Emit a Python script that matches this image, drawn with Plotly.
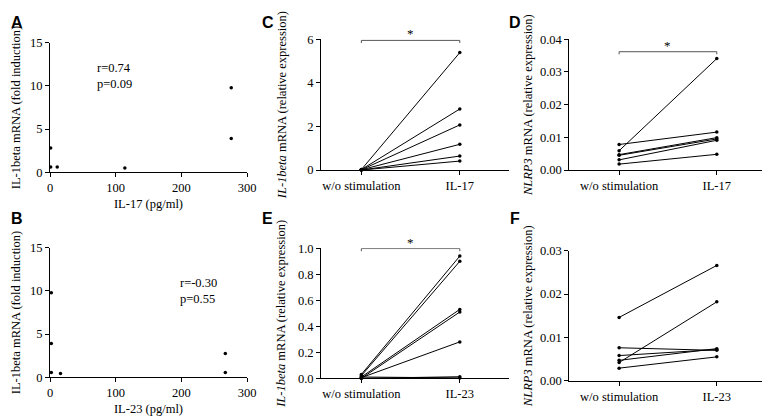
import plotly.graph_objects as go

# panel A / B: correlation scatter
il17_pg = [1, 1, 11, 114, 276, 276]
il1b_fold_a = [2.8, 0.6, 0.6, 0.5, 9.8, 3.9]
il23_pg = [2, 2, 2, 16, 267, 267]
il1b_fold_b = [9.8, 3.9, 0.55, 0.45, 2.75, 0.55]

# panels C-F: paired before/after values
cats_17 = ['w/o stimulation', 'IL-17']
cats_23 = ['w/o stimulation', 'IL-23']

c_wo = [0.02, 0.02, 0.01, 0.01, 0.0, 0.0]
c_il17 = [5.39, 2.80, 2.07, 1.18, 0.64, 0.41]

d_wo = [0.0059, 0.0078, 0.0047, 0.0045, 0.0031, 0.0018]
d_il17 = [0.0341, 0.0116, 0.0099, 0.0095, 0.0091, 0.0048]

e_wo = [0.03, 0.02, 0.01, 0.0, 0.005, 0.0, 0.01]
e_il23 = [0.94, 0.90, 0.53, 0.51, 0.28, 0.012, 0.003]

f_wo = [0.0146, 0.0042, 0.0076, 0.0058, 0.0047, 0.0029]
f_il23 = [0.0266, 0.0182, 0.0070, 0.0072, 0.0074, 0.0055]

SERIF = 'Liberation Serif, Times New Roman, serif'
# page body has an 8px margin, so the figure is drawn 8px in from the corner
OFF = 8
W, H = 770 - OFF, 417 - OFF

fig = go.Figure()

def scatter(x, y, ax):
    fig.add_trace(go.Scatter(x=x, y=y, mode='markers', xaxis='x' + ax, yaxis='y' + ax,
                             marker=dict(color='black', size=3.5), cliponaxis=False,
                             showlegend=False))

def paired(cats, before, after, ax):
    for a, b in zip(before, after):
        fig.add_trace(go.Scatter(x=cats, y=[a, b], mode='lines+markers',
                                 xaxis='x' + ax, yaxis='y' + ax,
                                 line=dict(color='black', width=1),
                                 marker=dict(color='black', size=3.5),
                                 cliponaxis=False, showlegend=False))

def bracket(cats, ax, y0, drop):
    fig.add_trace(go.Scatter(x=[cats[0], cats[0], cats[1], cats[1]],
                             y=[y0 - drop, y0, y0, y0 - drop], mode='lines',
                             xaxis='x' + ax, yaxis='y' + ax,
                             line=dict(color='#555555', width=1), showlegend=False))
    # star above the bracket (kept inside the range, pushed up in pixels)
    fig.add_annotation(x=0.5, y=y0, xref='x' + ax, yref='y' + ax, text='*',
                       showarrow=False, yanchor='bottom', yshift=-3,
                       font=dict(family=SERIF, size=13, color='black'))

scatter(il17_pg, il1b_fold_a, '')
scatter(il23_pg, il1b_fold_b, '2')
paired(cats_17, c_wo, c_il17, '3')
paired(cats_17, d_wo, d_il17, '4')
paired(cats_23, e_wo, e_il23, '5')
paired(cats_23, f_wo, f_il23, '6')
bracket(cats_17, '3', 5.95, 0.12)
bracket(cats_17, '4', 0.0362, 0.0008)
bracket(cats_23, '5', 0.998, 0.02)

def px(x0, x1):
    return [(x0 - OFF) / W, (x1 - OFF) / W]

def py(top, bottom):
    return [1 - (bottom - OFF) / H, 1 - (top - OFF) / H]

base = dict(showline=True, linecolor='black', linewidth=1, ticks='outside', ticklen=4,
            tickcolor='black', showgrid=False, zeroline=False, automargin=False,
            tickfont=dict(family=SERIF, size=12.5, color='black'))
tfont = dict(family=SERIF, size=12.5, color='black')

fig.update_layout(
    width=W, height=H, margin=dict(l=0, r=0, t=0, b=0),
    plot_bgcolor='white', paper_bgcolor='white',
    xaxis=dict(base, domain=px(50, 247), range=[0, 300], tickvals=[0, 100, 200, 300],
               anchor='y', title=dict(text='IL-17 (pg/ml)', font=tfont, standoff=4)),
    yaxis=dict(base, domain=py(42.7, 172.3), range=[0, 15], tickvals=[0, 5, 10, 15],
               anchor='x', title=dict(text='IL-1beta mRNA (fold induction)', font=tfont, standoff=6)),
    xaxis2=dict(base, domain=px(50, 247), range=[0, 300], tickvals=[0, 100, 200, 300],
                anchor='y2', title=dict(text='IL-23 (pg/ml)', font=tfont, standoff=4)),
    yaxis2=dict(base, domain=py(247.7, 377.3), range=[0, 15], tickvals=[0, 5, 10, 15],
                anchor='x2', title=dict(text='IL-1beta mRNA (fold induction)', font=tfont, standoff=6)),
    xaxis3=dict(base, domain=px(321, 509), type='category', range=[-0.41, 1.5], anchor='y3'),
    yaxis3=dict(base, domain=py(39.3, 170), range=[0, 6], tickvals=[0, 2, 4, 6], anchor='x3',
                title=dict(text='<i>IL-1beta</i> mRNA (relative expression)', font=tfont, standoff=17)),
    xaxis4=dict(base, domain=px(569.3, 762.7), type='category', range=[-0.51, 1.47], anchor='y4'),
    yaxis4=dict(base, domain=py(39.3, 170), range=[0, 0.04], tickvals=[0, 0.01, 0.02, 0.03, 0.04],
                tickformat='.2f', anchor='x4',
                title=dict(text='<i>NLRP3</i> mRNA (relative expression)', font=tfont, standoff=4)),
    xaxis5=dict(base, domain=px(321, 509), type='category', range=[-0.41, 1.5], anchor='y5'),
    yaxis5=dict(base, domain=py(248.3, 378.3), range=[0, 1.0],
                tickvals=[0, 0.2, 0.4, 0.6, 0.8, 1.0], tickformat='.1f', anchor='x5',
                title=dict(text='<i>IL-1beta</i> mRNA (relative expression)', font=tfont, standoff=9)),
    xaxis6=dict(base, domain=px(569.3, 762.7), type='category', range=[-0.51, 1.47], anchor='y6'),
    yaxis6=dict(base, domain=py(250.7, 380.7), range=[0, 0.03], tickvals=[0, 0.01, 0.02, 0.03],
                tickformat='.2f', anchor='x6',
                title=dict(text='<i>NLRP3</i> mRNA (relative expression)', font=tfont, standoff=4)),
)

# r / p annotations
fig.add_annotation(x=69, y=11.1, xref='x', yref='y', text='r=0.74<br>p=0.09', showarrow=False,
                   xanchor='left', align='left', font=tfont)
fig.add_annotation(x=195, y=10.0, xref='x2', yref='y2', text='r=-0.30<br>p=0.55', showarrow=False,
                   xanchor='left', align='left', font=tfont)

# panel letters
for letter, x, y in [('A', 9, 12), ('B', 9, 218), ('C', 260, 12),
                     ('D', 515, 12), ('E', 260, 218), ('F', 515, 218)]:
    fig.add_annotation(x=(x - OFF) / W, y=1 - (y - OFF) / H, xref='paper', yref='paper',
                       text='<b>%s</b>' % letter, showarrow=False,
                       font=dict(family='Liberation Sans', size=16, color='black'))

fig.write_html("out.html")
